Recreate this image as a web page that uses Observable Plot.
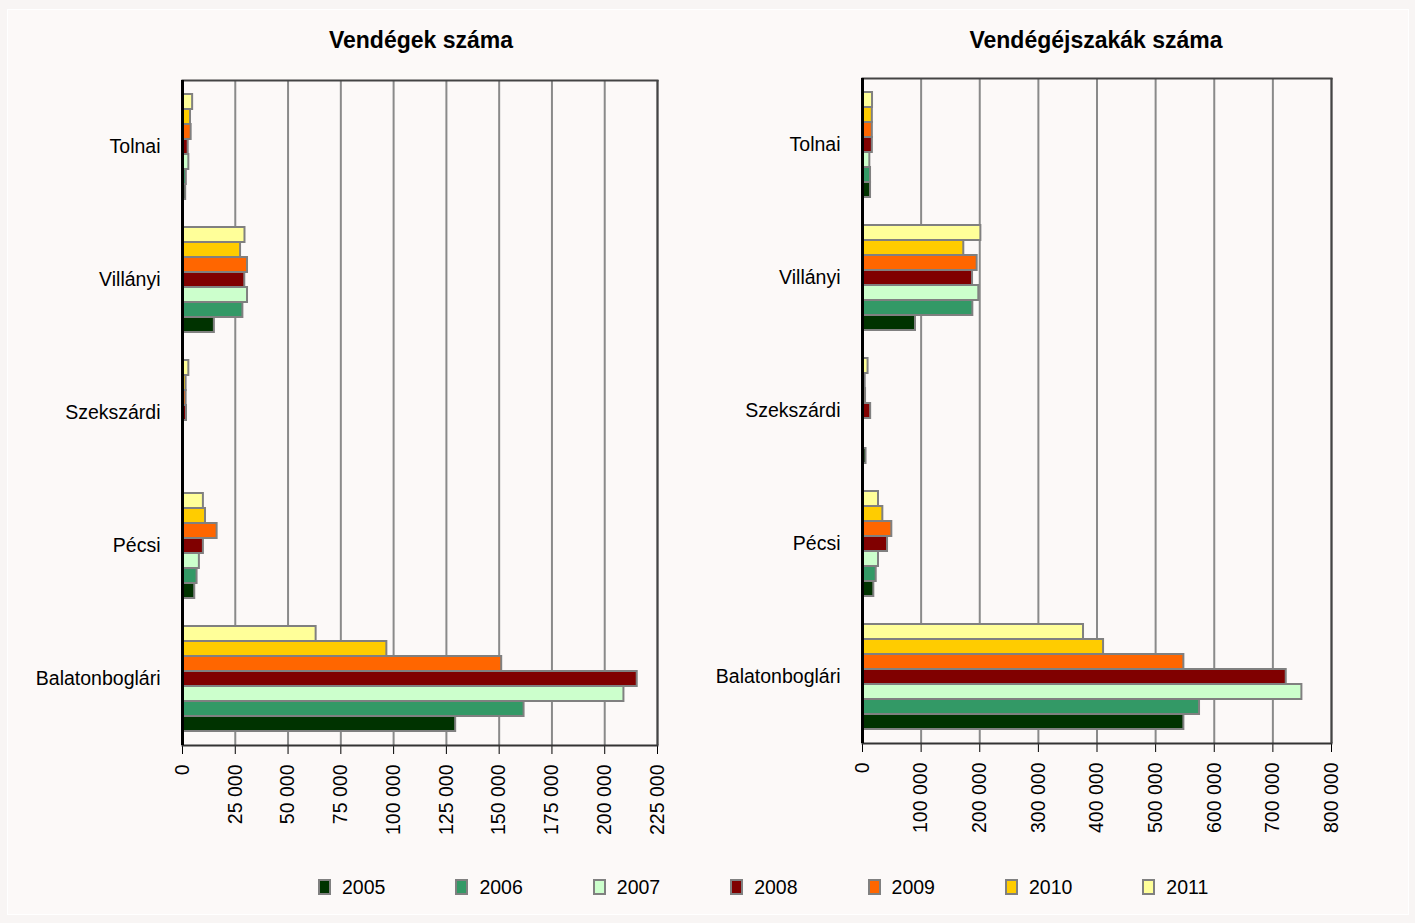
<!DOCTYPE html>
<html><head><meta charset="utf-8">
<script src="https://cdn.jsdelivr.net/npm/d3@7"></script>
<script src="https://cdn.jsdelivr.net/npm/@observablehq/plot@0.6"></script>
<style>
body{margin:0;background:#f8f5f4;width:1415px;height:923px;overflow:hidden;position:relative;font-family:"Liberation Sans",Arial,sans-serif;color:#000}
#panel{position:absolute;left:7px;top:9px;width:1400px;height:904px;background:#fcf9f8;border:1px solid #fff}
.title{position:absolute;font-weight:bold;font-size:23px;transform:translateX(-50%);white-space:nowrap;top:27px}
.chart{position:absolute;top:0}
#legend{position:absolute;top:874px;left:318px;display:flex}
.item{width:137.4px;display:flex;align-items:center;font-size:19.5px;height:26px}
.sw{width:13px;height:16px;border:2px solid #808080;margin-right:11px;box-sizing:border-box}
</style></head>
<body>
<div id="panel"></div>
<div class="title" style="left:421px">Vendégek száma</div>
<div class="title" style="left:1096px">Vendégéjszakák száma</div>
<div id="left" class="chart" style="left:0px"></div>
<div id="right" class="chart" style="left:700px"></div>
<div id="legend"></div>
<script>
const categories = ["Tolnai", "Villányi", "Szekszárdi", "Pécsi", "Balatonboglári"];
const years = ["2005", "2006", "2007", "2008", "2009", "2010", "2011"];
const colors = ["#003300", "#339966", "#CCFFCC", "#800000", "#FF6600", "#FFCC00", "#FFFF99"];

// Vendégek száma (per category, years 2005..2011)
const guestsTolnai = [1500, 1800, 3000, 2700, 4100, 3800, 4800];
const guestsVillanyi = [15100, 28600, 30800, 29500, 30800, 27500, 29600];
const guestsSzekszardi = [null, null, null, 1900, 1700, 1700, 3000];
const guestsPecsi = [5800, 6900, 8000, 9900, 16400, 10900, 9900];
const guestsBalatonboglari = [129400, 161800, 209100, 215400, 151200, 96800, 63300];

// Vendégéjszakák száma
const nightsTolnai = [13700, 13700, 12500, 16800, 16800, 16800, 17100];
const nightsVillanyi = [90400, 188200, 198400, 187700, 195600, 172800, 201900];
const nightsSzekszardi = [6000, null, null, 13900, 5200, 4600, 9500];
const nightsPecsi = [19300, 23400, 27300, 42700, 50000, 34700, 27300];
const nightsBalatonboglari = [548200, 574900, 749500, 722800, 548200, 411200, 377000];

const guestTicks = [0, 25000, 50000, 75000, 100000, 125000, 150000, 175000, 200000, 225000];
const nightTicks = [0, 100000, 200000, 300000, 400000, 500000, 600000, 700000, 800000];

const fmt = d3.formatLocale({decimal: ",", thousands: " ", grouping: [3], currency: ["", ""]}).format(",");

function table(series) {
  const rows = [];
  categories.forEach((c, ci) => years.forEach((y, yi) => {
    const v = series[ci][yi];
    if (v != null) rows.push({cat: c, year: y, value: v});
  }));
  return rows;
}

function chart(rows, ticks, opts) {
  const first = categories[0], last = categories[categories.length - 1];
  return Plot.plot({
    width: opts.width, height: opts.height,
    marginLeft: opts.ml, marginRight: opts.mr, marginTop: opts.mt, marginBottom: opts.mb,
    style: {fontFamily: '"Liberation Sans",Arial,sans-serif', fontSize: "19.5px", color: "#000", background: "transparent", overflow: "visible"},
    x: {domain: [ticks[0], ticks[ticks.length - 1]], ticks, tickFormat: fmt, tickRotate: -90, tickSize: 9, tickPadding: 10, label: null},
    y: {domain: years.slice().reverse(), paddingInner: 0, paddingOuter: 0.8, axis: null},
    fy: {domain: categories, padding: 0, label: null, tickSize: 0, tickPadding: 22},
    color: {domain: years, range: colors},
    marks: [
      Plot.ruleX(ticks.slice(1), {stroke: "#8a8a8a", strokeWidth: 2}),
      Plot.barX(rows, {x: "value", y: "year", fy: "cat", fill: "year", stroke: "#808080", strokeWidth: 2}),
      Plot.frame({anchor: "top", stroke: "#444", strokeWidth: 2, fy: () => first}),
      Plot.frame({anchor: "bottom", stroke: "#333", strokeWidth: 2, fy: () => last}),
      Plot.ruleX([ticks[ticks.length - 1]], {stroke: "#444", strokeWidth: 2}),
      Plot.ruleX([0], {stroke: "#000", strokeWidth: 3})
    ]
  });
}

document.getElementById("left").appendChild(chart(
  table([guestsTolnai, guestsVillanyi, guestsSzekszardi, guestsPecsi, guestsBalatonboglari]),
  guestTicks, {width: 700, height: 870, ml: 182, mr: 43, mt: 79, mb: 125}));
document.getElementById("right").appendChild(chart(
  table([nightsTolnai, nightsVillanyi, nightsSzekszardi, nightsPecsi, nightsBalatonboglari]),
  nightTicks, {width: 715, height: 870, ml: 162, mr: 84, mt: 77, mb: 127}));

const legend = document.getElementById("legend");
years.forEach((y, i) => {
  const it = document.createElement("div");
  it.className = "item";
  const sw = document.createElement("div");
  sw.className = "sw";
  sw.style.background = colors[i];
  it.appendChild(sw);
  it.appendChild(document.createTextNode(y));
  legend.appendChild(it);
});
</script>
</body></html>
